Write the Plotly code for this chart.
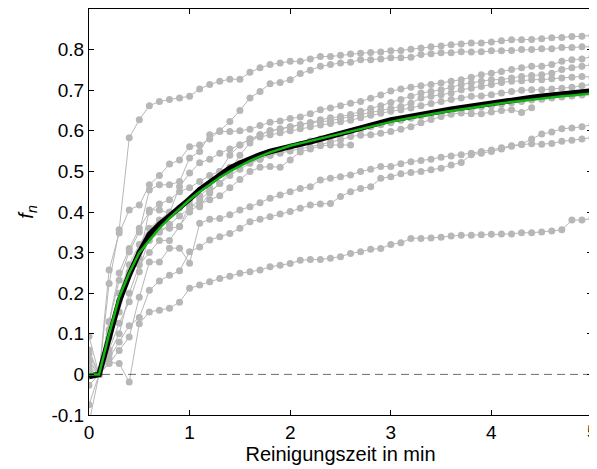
import plotly.graph_objects as go

T = [0.0, 0.1, 0.2, 0.3, 0.4, 0.5, 0.6, 0.7, 0.8, 0.9,
     1.0, 1.1, 1.2, 1.3, 1.4, 1.5, 1.6, 1.7, 1.8, 1.9,
     2.0, 2.1, 2.2, 2.3, 2.4, 2.5, 2.6, 2.7, 2.8, 2.9,
     3.0, 3.1, 3.2, 3.3, 3.4, 3.5, 3.6, 3.7, 3.8, 3.9,
     4.0, 4.1, 4.2, 4.3, 4.4, 4.5, 4.6, 4.7, 4.8, 4.9, 5.0]

run_a = [0.05, 0.0, 0.224, 0.356, 0.583, 0.627, 0.662, 0.672, 0.677, 0.681, 0.685,
         0.703, 0.714, 0.722, 0.727, 0.727, 0.744, 0.755, 0.763, 0.767, 0.771,
         0.771, 0.777, 0.783, 0.783, 0.786, 0.789, 0.791, 0.793, 0.794, 0.797,
         0.798, 0.801, 0.804, 0.807, 0.809, 0.812, 0.814, 0.816, 0.816, 0.819,
         0.822, 0.824, 0.824, 0.825, 0.827, 0.829, 0.830, 0.832, 0.833, 0.835]
run_b = [0.035, 0.0, 0.257, 0.348, 0.405, 0.417, 0.467, 0.49, 0.518, 0.528, 0.561,
         0.565, 0.58, 0.60, 0.623, 0.65, 0.681, 0.697, 0.716, 0.719, 0.726,
         0.741, 0.749, 0.759, 0.763, 0.767, 0.769, 0.775, 0.775, 0.777, 0.78,
         0.78, 0.781, 0.788, 0.79, 0.792, 0.792, 0.795, 0.794, 0.795, 0.797,
         0.797, 0.798, 0.80, 0.80, 0.802, 0.802, 0.805, 0.805, 0.807, 0.807]
run_c = [0.094, 0.0, 0.129, 0.232, 0.302, 0.351, 0.454, 0.467, 0.467, 0.475, 0.533,
         0.549, 0.59, 0.598, 0.598, 0.60, 0.604, 0.613, 0.621, 0.624, 0.63,
         0.634, 0.642, 0.652, 0.656, 0.662, 0.668, 0.672, 0.68, 0.688, 0.698,
         0.703, 0.707, 0.711, 0.714, 0.718, 0.722, 0.726, 0.732, 0.738, 0.742,
         0.746, 0.751, 0.755, 0.759, 0.759, 0.763, 0.771, 0.775, 0.777, 0.783]
run_d = [0.06, 0.0, 0.10, 0.154, 0.253, 0.286, 0.405, 0.405, 0.397, 0.462, 0.496,
         0.521, 0.53, 0.545, 0.555, 0.565, 0.58, 0.59, 0.60, 0.604, 0.61,
         0.615, 0.62, 0.627, 0.632, 0.635, 0.64, 0.648, 0.655, 0.662, 0.67,
         0.677, 0.685, 0.693, 0.697, 0.701, 0.707, 0.714, 0.718, 0.722, 0.726,
         0.726, 0.730, 0.734, 0.736, 0.738, 0.742, 0.751, 0.755, 0.759, 0.763]
run_e = [-0.075, 0.0, 0.06, 0.126, 0.179, 0.253, 0.343, 0.356, 0.36, 0.364, 0.417,
         0.413, 0.447, 0.47, 0.50, 0.54, 0.57, 0.59, 0.60, 0.605, 0.61,
         0.615, 0.62, 0.622, 0.625, 0.63, 0.635, 0.64, 0.645, 0.65, 0.655,
         0.66, 0.668, 0.681, 0.685, 0.689, 0.693, 0.701, 0.705, 0.709, 0.714,
         0.719, 0.722, 0.723, 0.726, 0.726, 0.728, 0.730, 0.732, 0.734, 0.732]
run_f = [0.02, 0.0, 0.11, 0.20, 0.27, 0.32, 0.36, 0.38, 0.40, 0.41, 0.43,
         0.44, 0.46, 0.50, 0.54, 0.565, 0.58, 0.585, 0.59, 0.595, 0.60,
         0.605, 0.61, 0.614, 0.618, 0.622, 0.626, 0.632, 0.638, 0.643, 0.648,
         0.652, 0.656, 0.662, 0.667, 0.672, 0.677, 0.681, 0.685, 0.686, 0.689,
         0.693, 0.697, 0.70, 0.701, 0.701, 0.703, 0.705, 0.707, 0.711, 0.714]
run_g = [0.0, 0.0, 0.09, 0.18, 0.25, 0.30, 0.33, 0.35, 0.37, 0.39, 0.41,
         0.43, 0.45, 0.47, 0.49, 0.505, 0.52, 0.53, 0.54, 0.55, 0.56,
         0.566, 0.575, 0.58, 0.585, 0.59, 0.597, 0.603, 0.61, 0.615, 0.62,
         0.626, 0.631, 0.636, 0.64, 0.644, 0.648, 0.652, 0.655, 0.659, 0.662,
         0.666, 0.669, 0.672, 0.676, 0.678, 0.681, 0.683, 0.686, 0.688, 0.689]
run_h = [0.01, 0.0, 0.13, 0.25, 0.31, 0.36, 0.40, 0.42, 0.43, 0.45, 0.46,
         0.475, 0.49, 0.50, 0.51, 0.52, 0.525, 0.53, 0.54, 0.545, 0.55,
         0.556, 0.56, 0.566, 0.572, 0.578, 0.586, 0.589, 0.59, 0.594, 0.598,
         0.604, 0.61, 0.62, 0.628, 0.635, 0.641, 0.644, 0.642, 0.642, 0.646,
         0.65, 0.652, 0.645, 0.657]
run_i = [-0.027, 0.0, 0.05, 0.10, 0.20, 0.27, 0.30, 0.33, 0.33, 0.364, 0.40,
         0.42, 0.43, 0.44, 0.46, 0.48, 0.50, 0.51, 0.512, 0.51, 0.528,
         0.548, 0.555, 0.563, 0.565, 0.565, 0.565]
run_j = [0.03, 0.0, 0.027, 0.059, 0.092, 0.19, 0.277, 0.277, 0.311, 0.311, 0.274,
         0.372, 0.382, 0.384, 0.393, 0.405, 0.413, 0.423, 0.434, 0.442, 0.45,
         0.458, 0.462, 0.479, 0.483, 0.487, 0.491, 0.5, 0.505, 0.512, 0.512,
         0.519, 0.524, 0.527, 0.53, 0.535, 0.538, 0.541, 0.545, 0.549, 0.553,
         0.558, 0.563, 0.567, 0.58, 0.592, 0.597, 0.605, 0.607, 0.61, 0.615]
run_k = [-0.12, 0.0, 0.04, 0.08, 0.12, 0.14, 0.207, 0.23, 0.244, 0.255, 0.302,
         0.314, 0.331, 0.339, 0.347, 0.36, 0.376, 0.382, 0.388, 0.395, 0.401,
         0.409, 0.417, 0.42, 0.421, 0.438, 0.45, 0.458, 0.462, 0.483, 0.487,
         0.494, 0.497, 0.50, 0.504, 0.508, 0.516, 0.522, 0.541, 0.545, 0.549,
         0.555, 0.562, 0.566, 0.568, 0.567, 0.569, 0.574, 0.577, 0.58, 0.583]
run_l = [0.01, 0.0, 0.03, 0.027, -0.019, 0.125, 0.154, 0.158, 0.163, 0.178, 0.212,
         0.22, 0.228, 0.236, 0.242, 0.249, 0.253, 0.257, 0.265, 0.269, 0.273,
         0.281, 0.283, 0.283, 0.286, 0.29, 0.298, 0.302, 0.308, 0.31, 0.32,
         0.324, 0.335, 0.335, 0.336, 0.338, 0.341, 0.343, 0.343, 0.344, 0.345,
         0.346, 0.346, 0.349, 0.349, 0.351, 0.353, 0.356, 0.38, 0.38, 0.384]

mean_curve = [-0.005, 0.0, 0.09, 0.18, 0.245, 0.30, 0.345, 0.37, 0.39, 0.41, 0.432,
              0.455, 0.474, 0.49, 0.508, 0.52, 0.532, 0.541, 0.549, 0.556, 0.562,
              0.567, 0.573, 0.58, 0.587, 0.594, 0.602, 0.608, 0.614, 0.62, 0.627,
              0.631, 0.636, 0.641, 0.646, 0.65, 0.653, 0.657, 0.661, 0.665, 0.669,
              0.673, 0.676, 0.679, 0.682, 0.685, 0.688, 0.691, 0.695, 0.696, 0.698]
fit_curve = [0.0, 0.0, 0.10, 0.19, 0.25, 0.30, 0.33, 0.36, 0.385, 0.408, 0.43,
             0.45, 0.468, 0.485, 0.50, 0.514, 0.526, 0.537, 0.547, 0.555, 0.563,
             0.569, 0.575, 0.581, 0.587, 0.593, 0.599, 0.605, 0.611, 0.617, 0.622,
             0.627, 0.632, 0.637, 0.641, 0.645, 0.649, 0.653, 0.657, 0.661, 0.664,
             0.668, 0.671, 0.674, 0.677, 0.68, 0.683, 0.685, 0.687, 0.689, 0.692]

runs = [run_a, run_b, run_c, run_d, run_e, run_f, run_g, run_h, run_i, run_j, run_k, run_l]

x_ticks = [0, 1, 2, 3, 4, 5]
x_tick_labels = ["0", "1", "2", "3", "4", "5"]
y_ticks = [-0.1, 0, 0.1, 0.2, 0.3, 0.4, 0.5, 0.6, 0.7, 0.8]
y_tick_labels = ["-0.1", "0", "0.1", "0.2", "0.3", "0.4", "0.5", "0.6", "0.7", "0.8"]

GREY = "rgb(183,183,183)"
FONT = "Liberation Sans, Arial, sans-serif"

fig = go.Figure()
for r in runs:
    fig.add_trace(go.Scatter(
        x=T[:len(r)], y=r, mode="lines+markers",
        line=dict(color=GREY, width=1),
        marker=dict(color=GREY, size=7),
        showlegend=False, hoverinfo="skip"))

fig.add_trace(go.Scatter(
    x=[x_ticks[0], x_ticks[-1]], y=[0, 0], mode="lines",
    line=dict(color="rgb(70,70,70)", width=0.8, dash="8px,5px"),
    showlegend=False, hoverinfo="skip"))

fig.add_trace(go.Scatter(
    x=T, y=mean_curve, mode="lines",
    line=dict(color="black", width=5.5),
    showlegend=False))
fig.add_trace(go.Scatter(
    x=T, y=fit_curve, mode="lines",
    line=dict(color="rgb(20,180,20)", width=2.5),
    showlegend=False))

axis_common = dict(
    showline=True, linecolor="black", linewidth=1, mirror="ticks",
    ticks="inside", ticklen=5, tickcolor="black", tickwidth=1,
    showgrid=False, zeroline=False, automargin=False,
    tickfont=dict(family=FONT, size=19, color="black"),
)

# The page body has an 8px margin, so the figure is sized/padded to
# put the plot frame where the reference has it.
fig.update_layout(
    width=589, height=461,
    margin=dict(l=81, r=5, t=1, b=54),
    paper_bgcolor="white", plot_bgcolor="white",
    font=dict(family=FONT, size=19, color="black"),
    xaxis=dict(range=[0, 5], tickvals=x_ticks[:-1], ticktext=x_tick_labels[:-1],
               title=dict(text="Reinigungszeit in min", font=dict(family=FONT, size=20), standoff=2),
               **axis_common),
    yaxis=dict(range=[-0.1, 0.9], tickvals=y_ticks, ticktext=y_tick_labels,
               title=dict(text="<i>f</i><sub><i>n</i></sub>", font=dict(family=FONT, size=20), standoff=12),
               **axis_common),
)
fig.add_annotation(x=x_ticks[-1], y=0, xref="x", yref="paper", text=x_tick_labels[-1],
                   showarrow=False, yanchor="top", xanchor="center", yshift=-4,
                   font=dict(family=FONT, size=19, color="black"))

fig.write_html("out.html")
